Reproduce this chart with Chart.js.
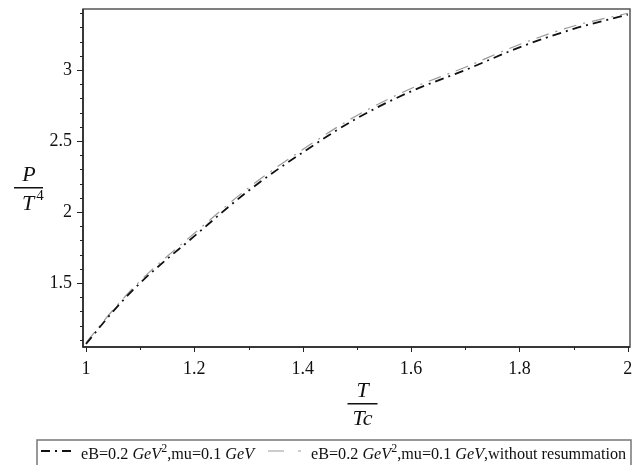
<!DOCTYPE html>
<html>
<head>
<meta charset="utf-8">
<script src="https://cdn.jsdelivr.net/npm/chart.js@4/dist/chart.umd.min.js"></script>
<style>
  html, body { margin: 0; padding: 0; background: #fff; }
  #wrap { width: 640px; height: 465px; position: relative; }
</style>
</head>
<body>
<div id="wrap"><canvas id="c" width="640" height="465"></canvas></div>
<script>
// ---- data ----
const tOverTc    = [1.0, 1.05, 1.1, 1.2, 1.3, 1.4, 1.5, 1.6, 1.7, 1.8, 1.9, 2.0];
const pResummed  = [1.07, 1.30, 1.50, 1.83, 2.15, 2.42, 2.66, 2.85, 3.00, 3.16, 3.29, 3.39];
const pNoResum   = [1.08, 1.31, 1.515, 1.85, 2.17, 2.44, 2.68, 2.87, 3.02, 3.18, 3.31, 3.40];
const xTickValues = [1.0, 1.1, 1.2, 1.3, 1.4, 1.5, 1.6, 1.7, 1.8, 1.9, 2.0];
const xTickLabels = ['1', '1.2', '1.4', '1.6', '1.8', '2'];
const yTickValues = [1.1, 1.2, 1.3, 1.4, 1.5, 1.6, 1.7, 1.8, 1.9, 2.0, 2.1, 2.2, 2.3, 2.4, 2.5, 2.6, 2.7, 2.8, 2.9, 3.0, 3.1, 3.2, 3.3, 3.4];
const yTickLabels = ['1.5', '2', '2.5', '3'];
const seriesNames = ['eB=0.2 GeV^2,mu=0.1 GeV', 'eB=0.2 GeV^2,mu=0.1 GeV,without resummation'];

const SERIF = '"Liberation Serif", "DejaVu Serif", serif';

function labelFor(list, v) {
  for (const s of list) if (Math.abs(Number(s) - v) < 1e-6) return s;
  return '';
}

function richText(ctx, x, y, text, size) {
  const parts = [];
  const re = /(GeV)|\^(\d)/g;
  let last = 0, m;
  while ((m = re.exec(text)) !== null) {
    if (m.index > last) parts.push({ t: text.slice(last, m.index) });
    if (m[1]) parts.push({ t: m[1], it: true });
    else parts.push({ t: m[2], sup: true });
    last = re.lastIndex;
  }
  if (last < text.length) parts.push({ t: text.slice(last) });
  ctx.textBaseline = 'alphabetic';
  ctx.textAlign = 'left';
  for (const p of parts) {
    if (p.sup) {
      ctx.font = `${Math.round(size * 0.75)}px ${SERIF}`;
      ctx.fillText(p.t, x, y - size * 0.42);
    } else {
      ctx.font = `${p.it ? 'italic ' : ''}${size}px ${SERIF}`;
      ctx.fillText(p.t, x, y);
    }
    x += ctx.measureText(p.t).width;
  }
  return x;
}

const decor = {
  id: 'decor',
  afterDraw(chart) {
    const ctx = chart.ctx;
    const a = chart.chartArea;
    const xs = chart.scales.x, ys = chart.scales.y;
    ctx.save();
    // frame
    ctx.strokeStyle = '#555';
    ctx.lineWidth = 1.5;
    ctx.strokeRect(a.left, a.top, a.right - a.left, a.bottom - a.top);
    ctx.strokeStyle = '#222';
    ctx.beginPath();
    ctx.moveTo(a.left, a.top); ctx.lineTo(a.left, a.bottom); ctx.lineTo(a.right, a.bottom);
    ctx.stroke();
    // ticks
    ctx.lineWidth = 1;
    ctx.strokeStyle = '#222';
    ctx.beginPath();
    for (const v of xTickValues) {
      const px = Math.round(xs.getPixelForValue(v)) + 0.5;
      const len = labelFor(xTickLabels, v) ? 5 : 3;
      ctx.moveTo(px, a.bottom); ctx.lineTo(px, a.bottom + len);
    }
    for (const v of yTickValues) {
      const py = Math.round(ys.getPixelForValue(v)) + 0.5;
      const len = labelFor(yTickLabels, v) ? 6 : 3;
      ctx.moveTo(a.left, py); ctx.lineTo(a.left - len, py);
    }
    ctx.stroke();

    // y title: P / T^4
    ctx.fillStyle = '#111';
    ctx.textAlign = 'center';
    ctx.textBaseline = 'alphabetic';
    const ym = (a.top + a.bottom) / 2;
    ctx.font = `italic 22px ${SERIF}`;
    ctx.fillText('P', 29, ym + 3);
    ctx.fillRect(14, ym + 9, 29, 1.5);
    ctx.fillText('T', 28, ym + 32);
    ctx.font = `15px ${SERIF}`;
    ctx.fillText('4', 40, ym + 22);

    // x title: T / Tc
    const xm = (a.left + a.right) / 2 + 6;
    ctx.font = `italic 22px ${SERIF}`;
    ctx.fillText('T', xm, a.bottom + 50);
    ctx.fillRect(xm - 15, a.bottom + 56, 30, 1.5);
    ctx.fillText('Tc', xm, a.bottom + 78);

    // legend box
    ctx.strokeStyle = '#777';
    ctx.lineWidth = 1.5;
    ctx.strokeRect(37, 440, 594, 40);
    const ly = 451;
    ctx.strokeStyle = '#111';
    ctx.lineWidth = 1.8;
    ctx.setLineDash([9, 5, 2, 5]);
    ctx.beginPath(); ctx.moveTo(41, ly); ctx.lineTo(76, ly); ctx.stroke();
    ctx.strokeStyle = '#999';
    ctx.lineWidth = 1.2;
    ctx.setLineDash([16, 14, 3, 10]);
    ctx.beginPath(); ctx.moveTo(268, ly); ctx.lineTo(306, ly); ctx.stroke();
    ctx.setLineDash([]);
    ctx.fillStyle = '#111';
    richText(ctx, 81, 459, seriesNames[0], 16.2);
    richText(ctx, 311, 459, seriesNames[1], 16.2);
    ctx.restore();
  }
};

new Chart(document.getElementById('c'), {
  type: 'line',
  data: {
    datasets: [
      {
        label: seriesNames[0],
        data: tOverTc.map((x, i) => ({ x, y: pResummed[i] })),
        borderColor: '#111',
        borderWidth: 1.8,
        borderDash: [9, 5, 2, 5],
        pointRadius: 0,
        cubicInterpolationMode: 'monotone',
        fill: false
      },
      {
        label: seriesNames[1],
        data: tOverTc.map((x, i) => ({ x, y: pNoResum[i] })),
        borderColor: '#9a9a9a',
        borderWidth: 1.2,
        borderDash: [13, 7, 2, 7],
        pointRadius: 0,
        cubicInterpolationMode: 'monotone',
        fill: false
      }
    ]
  },
  options: {
    responsive: false,
    animation: false,
    layout: { padding: { top: 9, right: 10, left: 0, bottom: 0 } },
    plugins: { legend: { display: false }, tooltip: { enabled: false } },
    scales: {
      x: {
        type: 'linear',
        min: 0.9945,
        max: 2.004,
        afterBuildTicks: (s) => { s.ticks = xTickValues.map(v => ({ value: v })); },
        afterFit: (s) => { s.height = 118; s.paddingLeft = 0; s.paddingRight = 0; },
        grid: { display: false, drawTicks: false },
        border: { display: false },
        ticks: {
          autoSkip: false,
          maxRotation: 0,
          padding: 11,
          color: '#111',
          font: { family: SERIF, size: 18 },
          callback: (v) => labelFor(xTickLabels, v)
        }
      },
      y: {
        type: 'linear',
        min: 1.049,
        max: 3.43,
        afterBuildTicks: (s) => { s.ticks = yTickValues.map(v => ({ value: v })); },
        afterFit: (s) => { s.width = 83; s.paddingTop = 0; s.paddingBottom = 0; },
        grid: { display: false, drawTicks: false },
        border: { display: false },
        ticks: {
          autoSkip: false,
          padding: 11,
          color: '#111',
          font: { family: SERIF, size: 18 },
          callback: (v) => labelFor(yTickLabels, v)
        }
      }
    }
  },
  plugins: [decor]
});
</script>
</body>
</html>
